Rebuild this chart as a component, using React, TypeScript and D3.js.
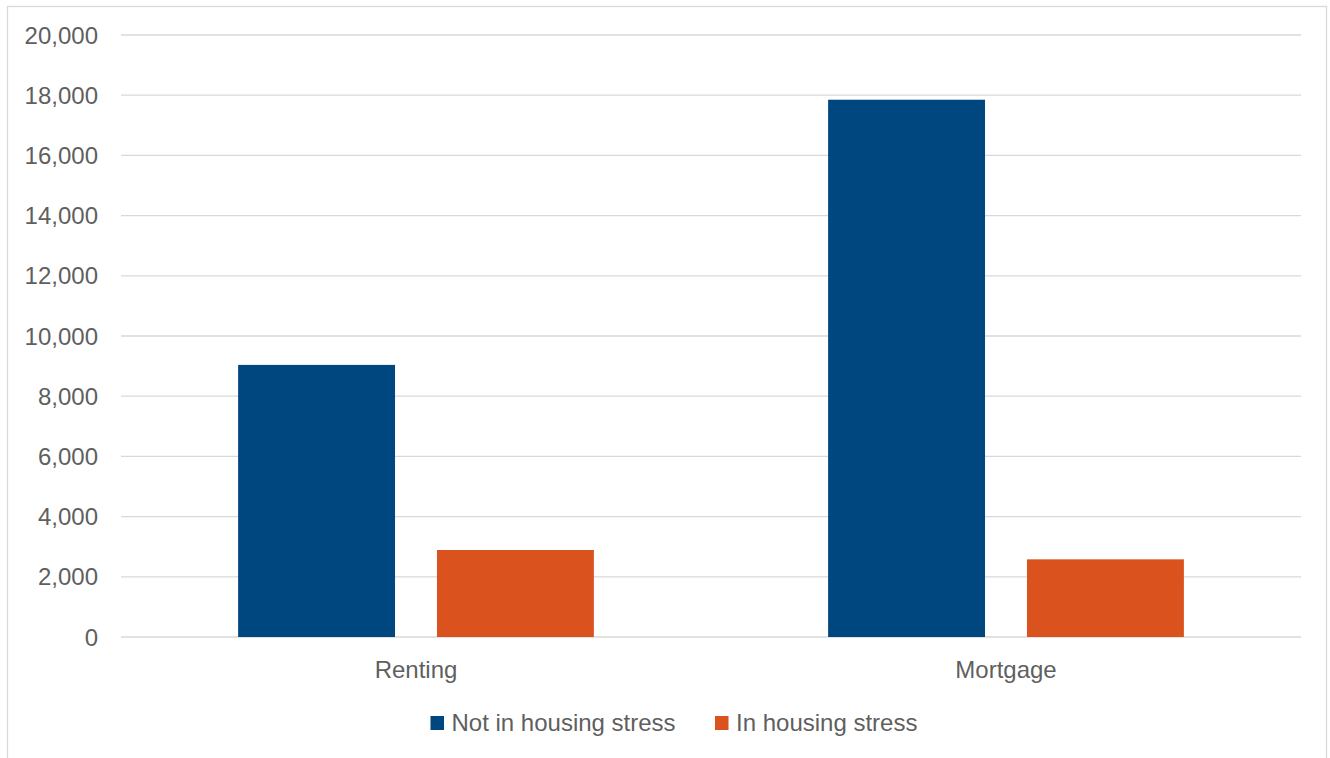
import React from "react";
import * as d3 from "d3";

const categories = ["Renting", "Mortgage"];
const seriesNames = ["Not in housing stress", "In housing stress"];
const notInStress = [9040, 17850];
const inStress = [2890, 2580];
const yTicks = [0, 2000, 4000, 6000, 8000, 10000, 12000, 14000, 16000, 18000, 20000];
const colors = ["#00467f", "#da531f"];

const W = 1330;
const H = 758;
const plot = { left: 121, right: 1301, top: 35, bottom: 637 };
const FONT = "'Liberation Sans', Arial, sans-serif";
const TEXT = "#5f5f5f";
const FS = 24;

export default function App() {
  const y = d3.scaleLinear().domain([0, 20000]).range([plot.bottom, plot.top]);
  const x0 = d3.scaleBand<string>().domain(categories).range([plot.left, plot.right]).padding(0);
  const bw = x0.bandwidth();
  const groupW = bw * 0.603;
  const x1 = d3
    .scaleBand<string>()
    .domain(seriesNames)
    .range([(bw - groupW) / 2, (bw + groupW) / 2])
    .paddingInner(0.211)
    .paddingOuter(0);
  const values = [notInStress, inStress];
  const fmt = d3.format(",");

  const legendItems = [
    { name: seriesNames[0], x: 430.5, color: colors[0] },
    { name: seriesNames[1], x: 715, color: colors[1] },
  ];

  return (
    <div style={{ position: "absolute", left: 0, top: 0 }}>
      <svg width={W} height={H} style={{ display: "block" }}>
        <rect x={0} y={0} width={W} height={H} fill="#fff" />
        <rect x={7.5} y={6.5} width={1319} height={H + 10} fill="none" stroke="#d9d9d9" strokeWidth={1.3} />
        {yTicks.map((t) => (
          <g key={t}>
            <line x1={plot.left} x2={plot.right} y1={y(t)} y2={y(t)} stroke="#d9d9d9" strokeWidth={1.3} />
            <text x={98} y={y(t) + 8.6} textAnchor="end" fontFamily={FONT} fontSize={FS} fill={TEXT}>
              {fmt(t)}
            </text>
          </g>
        ))}
        {categories.map((c, ci) => (
          <g key={c} transform={`translate(${x0(c)},0)`}>
            {seriesNames.map((s, si) => (
              <rect
                key={s}
                x={x1(s)}
                y={y(values[si][ci])}
                width={x1.bandwidth()}
                height={y(0) - y(values[si][ci])}
                fill={colors[si]}
              />
            ))}
            <text x={bw / 2} y={678} textAnchor="middle" fontFamily={FONT} fontSize={FS} fill={TEXT}>
              {c}
            </text>
          </g>
        ))}
        {legendItems.map((l) => (
          <g key={l.name}>
            <rect x={l.x} y={716} width={13.5} height={14} fill={l.color} />
            <text x={l.x + 21} y={731} fontFamily={FONT} fontSize={FS} fill={TEXT}>
              {l.name}
            </text>
          </g>
        ))}
      </svg>
    </div>
  );
}
